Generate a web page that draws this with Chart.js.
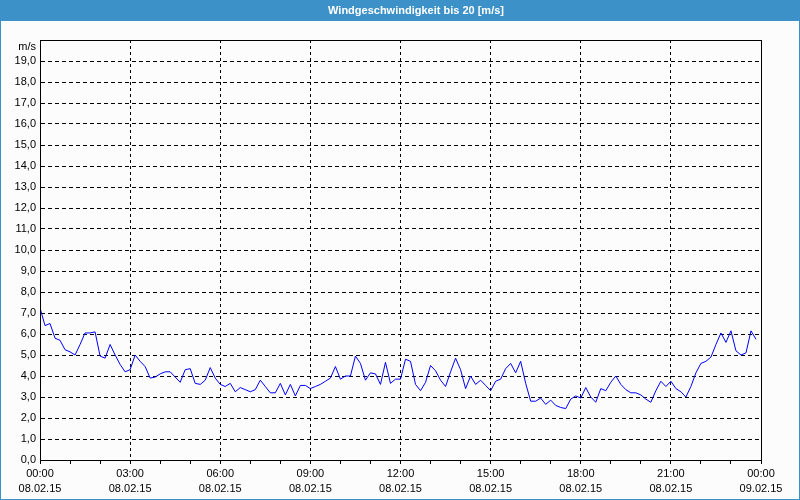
<!DOCTYPE html>
<html>
<head>
<meta charset="utf-8">
<script src="https://cdn.jsdelivr.net/npm/chart.js@4/dist/chart.umd.min.js"></script>
<style>
  html, body { margin: 0; padding: 0; background: #fbfcfb; }
  #wrap { width: 800px; height: 500px; position: relative; }
</style>
</head>
<body>
<div id="wrap"><canvas id="c" width="800" height="500"></canvas></div>
<script>
const TITLE = 'Windgeschwindigkeit bis 20 [m/s]';
const UNIT = 'm/s';
// wind speed samples every 10 minutes, 08.02.15 00:00 .. 23:50
const windSpeed = [
  7.25, 6.4, 6.5, 5.8, 5.7, 5.25, 5.15, 5.0, 5.5, 6.05, 6.05, 6.1, 4.95, 4.85, 5.5, 5.0, 4.55, 4.2, 4.3, 5.0, 4.7, 4.45, 3.9, 3.95,
  4.1, 4.2, 4.2, 3.95, 3.7, 4.3, 4.35, 3.65, 3.6, 3.8, 4.4, 3.9, 3.6, 3.5, 3.65, 3.25, 3.45, 3.35, 3.25, 3.35, 3.8, 3.5, 3.2, 3.2,
  3.65, 3.1, 3.6, 3.05, 3.55, 3.55, 3.4, 3.5, 3.6, 3.75, 3.9, 4.45, 3.85, 4.0, 4.0, 4.95, 4.6, 3.8, 4.15, 4.1, 3.6, 4.65, 3.65, 3.85,
  3.85, 4.8, 4.7, 3.6, 3.3, 3.7, 4.5, 4.25, 3.8, 3.5, 4.2, 4.85, 4.3, 3.4, 4.0, 3.6, 3.8, 3.55, 3.3, 3.75, 3.85, 4.35, 4.6, 4.15,
  4.7, 3.65, 2.8, 2.8, 2.95, 2.65, 2.85, 2.6, 2.5, 2.45, 2.9, 3.05, 2.95, 3.45, 3.0, 2.75, 3.4, 3.3, 3.7, 4.0, 3.6, 3.35, 3.2, 3.2,
  3.1, 2.9, 2.75, 3.3, 3.75, 3.5, 3.75, 3.4, 3.25, 3.0, 3.5, 4.15, 4.6, 4.7, 4.9, 5.5, 6.05, 5.6, 6.15, 5.2, 5.0, 5.1, 6.15, 5.75
];
const sampleMinutes = 10;
const timeLabels = ['00:00', '03:00', '06:00', '09:00', '12:00', '15:00', '18:00', '21:00', '00:00'];
const dateLabels = ['08.02.15', '08.02.15', '08.02.15', '08.02.15', '08.02.15', '08.02.15', '08.02.15', '08.02.15', '09.02.15'];

const points = windSpeed.map((v, i) => ({ x: i * sampleMinutes / 60, y: v }));

const frame = {
  id: 'frame',
  beforeDraw(chart) {
    const ctx = chart.ctx;
    ctx.save();
    ctx.fillStyle = '#fbfcfb';
    ctx.fillRect(0, 0, 800, 500);
    ctx.fillStyle = 'rgb(60,145,200)';
    ctx.fillRect(0, 0, 800, 21);
    ctx.fillRect(0, 0, 1, 500);
    ctx.fillRect(799, 0, 1, 500);
    ctx.fillRect(0, 499, 800, 1);
    ctx.fillStyle = '#ffffff';
    ctx.font = 'bold 11px "Liberation Sans", Arial, sans-serif';
    ctx.textAlign = 'center';
    ctx.textBaseline = 'middle';
    ctx.fillText(TITLE, 416, 11);
    ctx.restore();
  },
  afterDraw(chart) {
    const ctx = chart.ctx;
    const a = chart.chartArea;
    ctx.save();
    ctx.strokeStyle = '#000';
    ctx.lineWidth = 1;
    ctx.strokeRect(Math.round(a.left) + 0.5, Math.round(a.top) + 0.5, Math.round(a.right - a.left), Math.round(a.bottom - a.top));
    ctx.fillStyle = '#000';
    ctx.font = '11px "Liberation Sans", Arial, sans-serif';
    ctx.textAlign = 'right';
    ctx.textBaseline = 'middle';
    ctx.fillText(UNIT, 36, 47);
    ctx.restore();
  }
};

new Chart(document.getElementById('c'), {
  type: 'line',
  data: {
    datasets: [{
      data: points,
      borderColor: '#0000ff',
      borderWidth: 1,
      pointRadius: 0,
      tension: 0,
      fill: false
    }]
  },
  options: {
    responsive: false,
    animation: false,
    events: [],
    layout: { padding: { top: 40, right: 39, left: 0, bottom: 0 } },
    plugins: { legend: { display: false }, title: { display: false }, tooltip: { enabled: false } },
    scales: {
      x: {
        type: 'linear',
        min: 0,
        max: 24,
        afterFit(scale) { scale.height = 40; },
        ticks: {
          stepSize: 1,
          autoSkip: false,
          maxRotation: 0,
          padding: 2,
          color: '#000',
          font: { family: '"Liberation Sans", Arial, sans-serif', size: 11, lineHeight: 1.4 },
          callback(value) {
            if (value % 3 !== 0) return '';
            const k = value / 3;
            return [timeLabels[k], dateLabels[k]];
          }
        },
        grid: {
          drawTicks: true,
          tickLength: 4,
          tickColor: '#000',
          color(ctx) {
            const v = ctx.tick ? ctx.tick.value : 0;
            return (v % 3 === 0 && v !== 0 && v !== 24) ? '#000' : 'rgba(0,0,0,0)';
          },
          lineWidth: 1
        },
        border: { display: true, color: '#000', width: 1, dash: [3, 3] }
      },
      y: {
        min: 0,
        max: 20,
        afterFit(scale) { scale.width = 40; },
        ticks: {
          stepSize: 1,
          padding: 4,
          color: '#000',
          font: { family: '"Liberation Sans", Arial, sans-serif', size: 11 },
          callback(value) {
            if (value === 20) return '';
            return value.toFixed(1).replace('.', ',');
          }
        },
        grid: {
          drawTicks: false,
          color(ctx) {
            const v = ctx.tick ? ctx.tick.value : 0;
            return (v !== 0 && v !== 20) ? '#000' : 'rgba(0,0,0,0)';
          },
          lineWidth: 1
        },
        border: { display: true, color: '#000', width: 1, dash: [4, 3] }
      }
    }
  },
  plugins: [frame]
});
</script>
</body>
</html>
